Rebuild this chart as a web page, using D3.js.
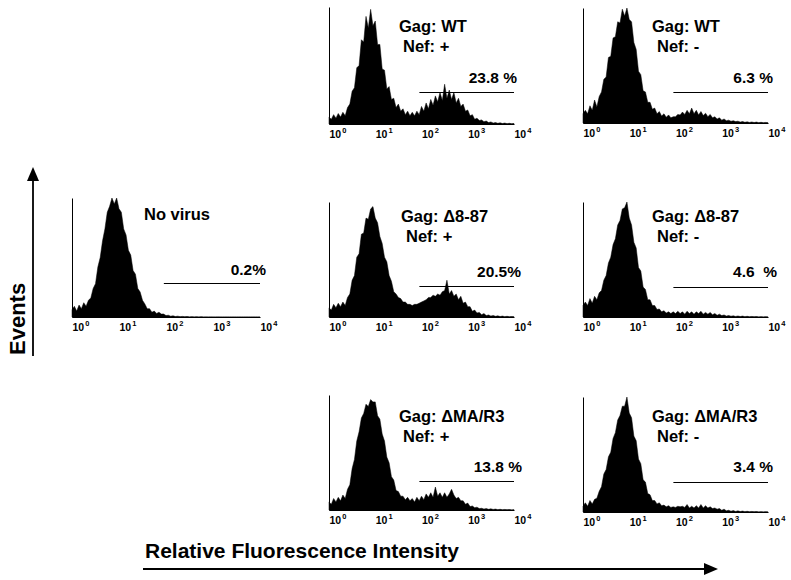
<!DOCTYPE html>
<html>
<head>
<meta charset="utf-8">
<script src="https://cdn.jsdelivr.net/npm/d3@7"></script>
<style>
  html, body { margin: 0; padding: 0; background: #fff; }
  svg { display: block; font-family: "Liberation Sans", Arial, Helvetica, sans-serif; }
</style>
</head>
<body>
<svg id="chart" width="791" height="580"></svg>
<script>
// ---------------- DATA ----------------
// Histogram counts (% of panel height) in channels of 0.05 decade, from 10^0 to 10^4
const decadeStep = 0.05;

const histWTPos = [6,4,8,5,9,6,10,7,14,17,28,31,48,50,72,70,92,82,98,84,
  88,68,68,47,46,30,32,21,22,14,17,11,13,8,11,7,10,7,11,8,
  15,11,18,13,21,16,24,19,27,20,34,22,29,21,27,18,22,15,17,11,
  12,7,8,4,5,3,3.5,2,2.5,1.2,1.8,0.8,1.2,0.6,1,0.4,0.8,0.3,0.6,0.2,0.4];

const histWTNeg = [8,11,8,15,11,20,14,23,27,38,40,57,58,74,75,88,87,99,93,100,
  90,88,70,64,45,42,28,27,18,18,12,13,8,10,6,8,5,7,4.5,5.5,
  5.5,7.5,7,9.5,7.5,11,8,13,8,11,7,10,6.5,8.5,5.5,7.5,4.5,5.5,3.5,4.5,
  2.5,3.5,2,2.5,1.5,2,1.2,1.6,0.8,1.3,0.6,1,0.5,0.9,0.4,0.8,0.3,0.6,0.2,0.5,0.2];

const histNoVirus = [6,9,5,10,7,12,9,14,16,24,28,42,50,64,74,88,93,100,95,100,
  91,88,74,69,56,52,39,36,24,21,14,11,7,7,4,5,3,4,2.5,2.5,
  1.2,1.5,0.7,1,0.4,0.7,0.3,0.5,0.2,0.4,0.1,0.3,0.1,0.2,0,0.2,0,0.1,0,0.1,
  0,0,0.1,0,0,0,0,0,0,0,0,0,0,0,0,0,0,0,0,0,0];

const hist887Pos = [8,6,11,8,12,9,13,10,17,20,32,36,52,55,72,73,86,85,94,96,
  86,82,70,64,52,48,36,31,22,20,17,16,13,13,11,11,10,11,11,12,
  13,14,15,17,17,19,18,20,19,22,23,32,20,23,18,20,15,18,12,13,
  9,9,5,6,3.5,4,2,3,1.2,1.8,0.8,1.3,0.6,1,0.4,0.8,0.3,0.6,0.2,0.4,0.2];

const hist887Neg = [10,13,10,16,12,18,15,21,23,32,36,47,52,63,68,80,84,94,95,100,
  86,80,65,60,43,40,26,24,15,15,10,10,6.5,7,4.5,5.5,3.5,4.5,3,4.5,
  3,5,3,4.5,2.5,5,3,4.5,2.5,4.5,3,5,2.5,4,2.5,4,2,3,1.5,2.5,
  1.2,1.8,0.8,1.3,0.7,1,0.5,0.9,0.4,0.8,0.3,0.6,0.2,0.5,0.2,0.4,0.1,0.3,0.1,0.3,0.1];

const histMAPos = [7,5,10,7,11,8,13,10,18,22,36,44,60,68,80,84,92,90,96,94,
  94,82,79,66,60,46,41,29,26,17,16,12,12,9,11,8,10,7,11,8,
  12,9,14,11,15,11,20,12,15,11,15,11,14,18,13,10,11,8,8,5,
  6,3,3.5,2,2.5,1.2,1.5,0.8,1.2,0.6,1,0.5,0.8,0.3,0.6,0.2,0.5,0.2,0.4,0.1,0.3];

const histMANeg = [5,8,5,10,7,11,12,18,22,33,37,48,52,64,69,80,84,92,92,100,
  86,82,66,62,46,42,28,26,16,15,10,10,7,8,5.5,6,4.5,5.5,4,4.5,
  4,5,4.5,5,4,6.5,3.5,5,3.5,5.5,3.5,6.5,3.5,5.5,3.5,4.5,3,3.5,2.5,3,
  1.5,2.5,1,1.5,0.7,1.2,0.5,1,0.4,0.8,0.3,0.6,0.2,0.5,0.2,0.4,0.1,0.3,0.1,0.3,0.1];

const panelSeries = [histWTPos, histWTNeg, histNoVirus, hist887Pos, hist887Neg, histMAPos, histMANeg];
const panelLabels = [
  ["Gag: WT", "Nef: +"],
  ["Gag: WT", "Nef: -"],
  ["No virus"],
  ["Gag: \u03948-87", "Nef: +"],
  ["Gag: \u03948-87", "Nef: -"],
  ["Gag: \u0394MA/R3", "Nef: +"],
  ["Gag: \u0394MA/R3", "Nef: -"]
];
const gatePercents = ["23.8 %", "6.3 %", "0.2%", "20.5%", "4.6  %", "13.8 %", "3.4 %"];
const gateStartValue = 90;      // gate marker begins near 10^2
const tickValues = [1, 10, 100, 1000, 10000];
const tickBase = "10";
const tickExponents = ["0", "1", "2", "3", "4"];
const xAxisTitle = "Relative Fluorescence Intensity";
const yAxisTitle = "Events";

// ---------------- LAYOUT ----------------
const layout = [
  {x0: 329, x1: 514, yb: 124, yt: 7,   lab: [[399, 32], [403, 52]], pct: [517, 83],  gateY: 92},
  {x0: 583, x1: 768, yb: 123, yt: 8,   lab: [[652, 32], [657, 52]], pct: [773, 83],  gateY: 92},
  {x0: 72,  x1: 260, yb: 317, yt: 198, lab: [[144, 220]],           pct: [266, 275], gateY: 283},
  {x0: 329, x1: 514, yb: 317, yt: 202, lab: [[401, 222], [406, 242]], pct: [521, 277], gateY: 286},
  {x0: 583, x1: 768, yb: 317, yt: 202, lab: [[652, 222], [657, 242]], pct: [777, 277], gateY: 287},
  {x0: 329, x1: 514, yb: 510, yt: 395, lab: [[399, 422], [403, 442]], pct: [522, 472], gateY: 481},
  {x0: 583, x1: 768, yb: 512, yt: 397, lab: [[652, 422], [657, 442]], pct: [773, 472], gateY: 482}
];

const svg = d3.select("#chart");

panelSeries.forEach((series, k) => {
  const L = layout[k];
  const g = svg.append("g");
  const x = d3.scaleLog().domain([1, 10000]).range([L.x0, L.x1]);
  const y = d3.scaleLinear().domain([0, 100]).range([L.yb, L.yt]);

  const area = d3.area()
    .x((d, i) => x(Math.pow(10, i * decadeStep)))
    .y0(L.yb)
    .y1(d => y(d))
    .curve(d3.curveLinear);

  g.append("path")
    .datum(series)
    .attr("d", area)
    .attr("fill", "#000")
    .attr("stroke", "#000")
    .attr("stroke-width", 0.5);

  // x axis
  const xAxis = g.append("g")
    .attr("transform", `translate(0,${L.yb})`)
    .call(d3.axisBottom(x).tickValues(tickValues).tickSize(0).tickSizeOuter(0).tickPadding(0));
  xAxis.select(".domain").attr("stroke", "#000").attr("stroke-width", 1.2);
  xAxis.selectAll(".tick text").each(function(d, i) {
    const t = d3.select(this);
    t.text(null)
      .attr("text-anchor", "start")
      .attr("y", 13.5)
      .attr("dy", null)
      .attr("fill", "#000")
      .attr("font-size", 10.5)
      .attr("font-weight", "bold")
      .attr("font-family", "'Liberation Sans', Arial, sans-serif");
    t.append("tspan").text(tickBase);
    t.append("tspan").attr("dy", -4.5).attr("dx", 1).attr("font-size", 7.5).text(tickExponents[i]);
  });

  // y axis (plain line)
  const yAxis = g.append("g")
    .attr("transform", `translate(${L.x0},0)`)
    .call(d3.axisLeft(y).tickValues([]).tickSizeOuter(0));
  yAxis.select(".domain").attr("stroke", "#000").attr("stroke-width", 1);

  // gate marker
  g.append("line")
    .attr("x1", x(gateStartValue)).attr("x2", x(10000))
    .attr("y1", L.gateY + 0.5).attr("y2", L.gateY + 0.5)
    .attr("stroke", "#000").attr("stroke-width", 1.2);

  g.append("text")
    .attr("x", L.pct[0]).attr("y", L.pct[1])
    .attr("text-anchor", "end")
    .attr("font-size", 15.5).attr("font-weight", "bold")
    .style("white-space", "pre")
    .text(gatePercents[k]);

  panelLabels[k].forEach((s, j) => {
    g.append("text")
      .attr("x", L.lab[j][0]).attr("y", L.lab[j][1])
      .attr("font-size", 16.5).attr("font-weight", "bold")
      .text(s);
  });
});

// Events arrow
svg.append("line").attr("x1", 33).attr("x2", 33).attr("y1", 356).attr("y2", 178)
  .attr("stroke", "#000").attr("stroke-width", 1.8);
svg.append("path").attr("d", "M33,167 L27,181 L39,181 Z").attr("fill", "#000");
svg.append("text")
  .attr("transform", "translate(25,355) rotate(-90)")
  .attr("font-size", 22).attr("font-weight", "bold")
  .text(yAxisTitle);

// Relative Fluorescence Intensity arrow
svg.append("text")
  .attr("x", 145).attr("y", 558)
  .attr("font-size", 21).attr("font-weight", "bold")
  .text(xAxisTitle);
svg.append("line").attr("x1", 143).attr("x2", 706).attr("y1", 569).attr("y2", 569)
  .attr("stroke", "#000").attr("stroke-width", 1.8);
svg.append("path").attr("d", "M718,569 L704,563 L704,575 Z").attr("fill", "#000");
</script>
</body>
</html>
